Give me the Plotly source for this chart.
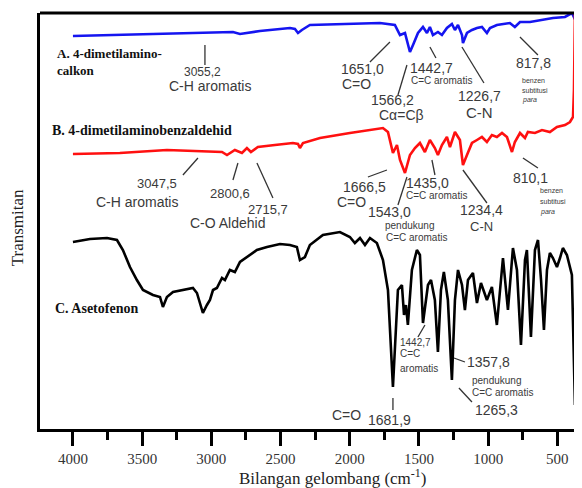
import plotly.graph_objects as go

# ---------------- data (wavenumber cm-1, transmittance arbitrary units) ----------------
a_wn = [4000, 3733, 3444, 3082, 2844, 2793, 2649, 2432, 2396, 2374, 2346, 2288, 2071, 1782,
        1674, 1637, 1601, 1565, 1543, 1507, 1471, 1442, 1421, 1399, 1363, 1334, 1298, 1262,
        1240, 1218, 1189, 1182, 1153, 1117, 1081, 1045, 1009, 987, 937, 843, 807, 770, 698,
        626, 532, 445, 395, 359, 337]
a_t = [98.25, 98.5, 98.75, 99, 99.25, 98.75, 99.5, 100.25, 100, 99, 99.75, 101, 101.25, 101.5,
       101, 98.5, 99, 94.25, 96, 99, 100.5, 99, 100.5, 98.5, 99.25, 98.5, 100.25, 101.25,
       99.75, 101, 98.5, 96.5, 99, 99.75, 100.25, 100.5, 99, 100.25, 101, 101.5, 100.5, 101.75, 101.75,
       102.25, 102.75, 103, 104, 101.5, 93.5]

b_wn = [4000, 3661, 3321, 3010, 2923, 2887, 2830, 2779, 2743, 2714, 2664, 2541, 2411, 2374, 2360,
        2338, 2215, 1999, 1760, 1724, 1688, 1659, 1637, 1601, 1565, 1529, 1493, 1457, 1421, 1385,
        1363, 1334, 1298, 1276, 1240, 1204, 1182, 1153, 1117, 1081, 1045, 1009, 973, 937, 900,
        864, 828, 807, 770, 734, 713, 662, 611, 554, 503, 445, 409, 387, 380, 373]
b_t = [68.75, 69, 69.75, 69.5, 69.25, 68.5, 69.75, 69, 70.25, 69.25, 70.5, 71, 71.5, 71.25, 70.25,
       71.5, 72.75, 74, 75.25, 74.25, 69, 71, 67.25, 64, 68.5, 70.25, 71.5, 69.25, 72.25, 70.25,
       68.5, 71, 73, 70.5, 74.25, 72.25, 66, 68.5, 71.5, 72.25, 73, 71.75, 73.5, 73, 74,
       73, 69.25, 71.75, 74, 72.75, 74.25, 74, 74.75, 74.25, 75.5, 76, 76.75, 78, 84.75, 104]

c_wn = [4000, 3877, 3754, 3682, 3639, 3588, 3538, 3494, 3422, 3371, 3350, 3321, 3277, 3205, 3133,
        3104, 3082, 3061, 3032, 3010, 2988, 2960, 2923, 2902, 2866, 2830, 2793, 2743, 2671, 2598,
        2504, 2432, 2382, 2360, 2324, 2288, 2194, 2071, 1999, 1963, 1926, 1890, 1854, 1804, 1760,
        1724, 1688, 1652, 1623, 1608, 1594, 1580, 1551, 1515, 1493, 1471, 1450, 1435, 1413, 1385,
        1363, 1341, 1320, 1291, 1262, 1240, 1218, 1189, 1168, 1146, 1110, 1081, 1052, 1009, 973,
        937, 893, 857, 821, 792, 763, 734, 720, 691, 662, 640, 618, 597, 575, 554, 532, 503, 481,
        460, 431, 409, 395, 373, 359]
c_t = [46.75, 47.5, 47.75, 47.25, 44.75, 40.5, 37.25, 34.75, 33.5, 33, 30.5, 33, 34.25, 34.75, 35.25,
       34, 31.5, 29, 31, 32.25, 34.75, 35.25, 37.75, 37.25, 39.75, 39.25, 41.75, 43, 44.75, 45.5,
       46.25, 46, 45.5, 42.25, 43, 46, 48.5, 49.25, 48, 46.5, 47.75, 46, 47.75, 46.5, 42.25,
       34.75, 10.5, 34.75, 36, 28.5, 31, 26, 39.75, 44.75, 43.5, 26.5, 32.25, 36, 37.25, 32.25,
       19.25, 34.75, 39.25, 32.25, 12.25, 32.25, 39.75, 36, 29.75, 37.25, 39, 31.5, 36.5, 32.25, 35.5,
       26, 42.75, 29.75, 45.25, 39.75, 21, 42.25, 44.75, 23, 44.75, 47.25, 37.25, 24.75, 39.75, 44, 42.75, 40.5, 42.75,
       45.25, 43.5, 40.5, 38.5, 6, 104]

x_ticks = [4000, 3500, 3000, 2500, 2000, 1500, 1000, 500]
x_tick_labels = ["4000", "3500", "3000", "2500", "2000", "1500", "1000", "500"]
x_minor = [4250, 3750, 3250, 2750, 2250, 1750, 1250, 750]

# ---------------- figure ----------------
fig = go.Figure()
fig.add_trace(go.Scatter(x=a_wn, y=a_t, mode="lines", line=dict(color="#1515f0", width=2.6), hoverinfo="skip"))
fig.add_trace(go.Scatter(x=b_wn, y=b_t, mode="lines", line=dict(color="#ff1010", width=2.6), hoverinfo="skip"))
fig.add_trace(go.Scatter(x=c_wn, y=c_t, mode="lines", line=dict(color="#000000", width=2.6), hoverinfo="skip"))


# annotation helpers: layout positions converted to data units
def X(px):
    return 4000 - (px - 73) * 7.225


def Y(py):
    return (429 - py) / 4


annots = []
shapes = []
SANS = "Liberation Sans, Arial, sans-serif"
SERIF = "Liberation Serif, Times New Roman, serif"
GRAY = "#3a3a3a"


def lab(text, px, py, size=14, xanchor="center", font=SANS, color=GRAY, bold=False):
    annots.append(dict(x=X(px), y=Y(py), xref="x", yref="y", text=("<b>%s</b>" % text) if bold else text,
                       showarrow=False, xanchor=xanchor, yanchor="middle",
                       font=dict(family=font, size=size, color=color)))


def ptr(x0, y0, x1, y1):
    shapes.append(dict(type="line", xref="x", yref="y", x0=X(x0), y0=Y(y0), x1=X(x1), y1=Y(y1),
                       line=dict(color="#333333", width=1.3)))


# series titles
lab("A. 4-dimetilamino-", 55, 53, 13, "left", SERIF, "#111", True)
lab("calkon", 55, 70, 13, "left", SERIF, "#111", True)
lab("B. 4-dimetilaminobenzaldehid", 50, 130, 14, "left", SERIF, "#111", True)
lab("C. Asetofenon", 53, 308, 14, "left", SERIF, "#111", True)

# A labels
lab("3055,2", 203, 72, 12)
lab("C-H aromatis", 210, 86, 14)
ptr(205, 45, 205, 65)
lab("1651,0", 363, 69, 14)
lab("C=O", 357, 84, 14)
ptr(370, 62, 390, 42)
lab("1566,2", 393, 100, 14)
lab("Cα=Cβ", 402, 115, 14)
ptr(398, 95, 407, 65)
lab("1442,7", 432, 68, 14)
lab("C=C aromatis", 442, 80, 10)
ptr(430, 47, 436, 58)
lab("1226,7", 480, 96, 14)
lab("C-N", 480, 112, 15)
ptr(462, 47, 484, 83)
lab("817,8", 534, 63, 14)
lab("benzen", 520, 80, 7, "left")
lab("subtitusi", 520, 90, 7, "left")
lab("<i>para</i>", 520, 100, 7, "left")
ptr(520, 37, 538, 55)

# B labels
lab("3047,5", 157, 183, 13)
lab("C-H aromatis", 137, 202, 14)
ptr(183, 175, 198, 158)
lab("2800,6", 230, 193, 13)
ptr(233, 180, 238, 163)
lab("2715,7", 268, 209, 13)
ptr(257, 163, 273, 198)
lab("C-O Aldehid", 228, 223, 14)
lab("1666,5", 365, 187, 14)
lab("C=O", 352, 202, 14)
ptr(368, 177, 387, 170)
lab("1543,0", 390, 212, 14)
lab("pendukung", 410, 225, 10)
lab("C=C aromatis", 417, 237, 10)
ptr(398, 205, 407, 177)
lab("1435,0", 428, 183, 14)
lab("C=C aromatis", 437, 195, 10)
ptr(432, 160, 435, 175)
lab("1234,4", 482, 210, 14)
lab("C-N", 482, 226, 13)
ptr(463, 170, 487, 203)
lab("810,1", 531, 178, 14)
lab("benzen", 538, 190, 7, "left")
lab("subtitusi", 538, 201, 7, "left")
lab("<i>para</i>", 538, 212, 7, "left")
ptr(523, 158, 538, 168)

# C labels
lab("1442,7", 398, 342, 10, "left")
lab("C=C", 398, 353, 10, "left")
lab("aromatis", 398, 368, 10, "left")
ptr(418, 337, 425, 325)
lab("1357,8", 465, 362, 14, "left")
ptr(454, 358, 465, 362)
lab("pendukung", 470, 380, 10, "left")
lab("C=C aromatis", 470, 392, 10, "left")
lab("1265,3", 473, 410, 14, "left")
ptr(459, 388, 472, 402)
lab("C=O", 347, 415, 14)
lab("1681,9", 390, 420, 14)
ptr(393, 398, 393, 410)

# axis titles
annots.append(dict(x=0.539, y=-0.116, xref="paper", yref="paper", showarrow=False,
                   text="Bilangan gelombang (cm<sup>-1</sup>)", xanchor="center", yanchor="middle",
                   font=dict(family=SERIF, size=17, color="#222")))
annots.append(dict(x=-0.042, y=0.483, xref="paper", yref="paper", showarrow=False, textangle=-90,
                   text="Transmitan", xanchor="center", yanchor="middle",
                   font=dict(family=SERIF, size=17, color="#222")))

# top border
shapes.append(dict(type="line", xref="paper", yref="paper", x0=0, x1=1, y0=1, y1=1,
                   line=dict(color="black", width=3)))

# the page body adds an 8px offset, so the figure is 8px smaller than the window
fig.update_layout(
    width=574, height=480,
    margin=dict(l=32, r=0, t=5, b=59),
    plot_bgcolor="white", paper_bgcolor="white",
    showlegend=False,
    annotations=annots, shapes=shapes,
    xaxis=dict(range=[4238, 322], showgrid=False, zeroline=False,
               showline=True, linecolor="black", linewidth=3,
               tickvals=x_ticks, ticktext=x_tick_labels,
               ticks="outside", ticklen=14, tickwidth=2.5, tickcolor="black",
               minor=dict(tickvals=x_minor, ticks="outside",
                          ticklen=8, tickwidth=2.5, tickcolor="black"),
               tickfont=dict(family=SERIF, size=15, color="#333")),
    yaxis=dict(range=[0, 104], showgrid=False, zeroline=False, showticklabels=False,
               showline=True, linecolor="black", linewidth=3, ticks=""),
)

fig.write_html("out.html")
